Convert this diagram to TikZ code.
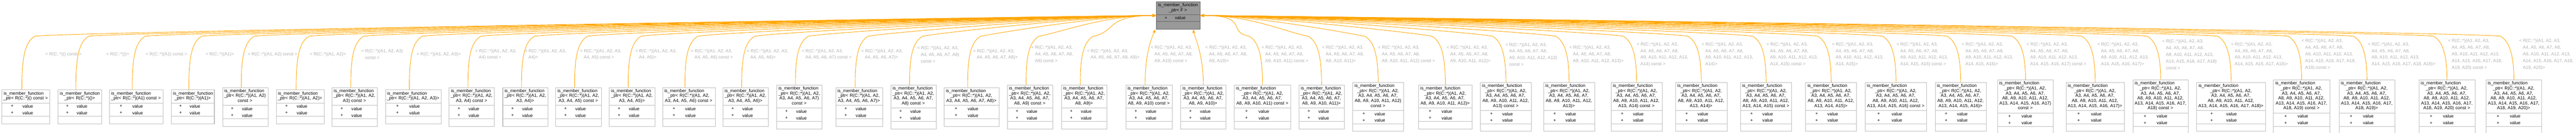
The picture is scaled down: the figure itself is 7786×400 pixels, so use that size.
\documentclass[tikz,border=0pt]{standalone}
\usepackage{fontspec}
\setmainfont{Liberation Sans}
\usetikzlibrary{arrows.meta,calc}
\definecolor{edgec}{RGB}{255,165,0}
\definecolor{boxc}{RGB}{191,191,191}
\definecolor{lblc}{RGB}{175,175,175}
\definecolor{rootfill}{RGB}{153,153,153}
\definecolor{rootline}{RGB}{102,102,102}
\tikzset{
 umlbox/.style={draw=boxc,line width=0.8pt,fill=white,inner sep=0pt,anchor=north west},
 umltitle/.style={anchor=north,inner sep=0pt,align=center,font=\fontsize{6.7}{7.5}\selectfont},
 sepline/.style={draw=boxc,line width=0.8pt},
 attr/.style={inner sep=0pt,font=\fontsize{6.7}{7.5}\selectfont},
 lbl/.style={anchor=west,inner sep=0pt,align=left,text=lblc,font=\fontsize{6.7}{10}\selectfont},
 edge/.style={draw=edgec,line width=0.7pt,-{Stealth[length=6pt,width=4.5pt]}},
}
\newcommand\PtA{\_ptr< R(C::*)(A1, A2,}
\newcommand\PtB{\PtA\\A3, A4, A5, A6, A7,}
\newcommand\PtC{\PtB\\A8, A9, A10, A11, A12,}
\newcommand\PtD{\PtC\\A13, A14, A15, A16, A17,}
\newcommand\lbnl{\\\hspace*{5.5pt}}
\newcommand\LbA{< R(C::*)(A1, A2, A3,}
\newcommand\LbB{\LbA\lbnl A4, A5, A6, A7, A8,}
\newcommand\LbC{\LbB\lbnl A9, A10, A11, A12, A13,}
\newcommand\LbD{\LbC\lbnl A14, A15, A16, A17, A18,}
\newcommand\edgeL[1]{\pgfmathsetmacro\ax{\cx-12}\draw[edge] ([xshift=-6pt]b#1.north) .. controls (\ax,165) and (\ax+12,125) .. (\ax+40,109) .. controls (\ax+110,96) and (3340,46) .. (root.west);}
\newcommand\edgeR[1]{\draw[edge] (b#1.north) .. controls (\cx,165) and (\cx-12,125) .. (\cx-40,109) .. controls (\cx-110,96) and (3780,46) .. (root.east);}
\newcommand\edgeB[1]{\pgfmathsetmacro\ax{\cx-12}\draw[edge] ([xshift=-6pt]b#1.north) .. controls (\ax,160) and (\ax+20,115) .. ([xshift=-1.5pt]root.south west);}
\newcommand\edgeC[1]{\draw[edge] (b#1.north) .. controls (\cx,160) and (\cx-25,115) .. ([xshift=-10.5pt]root.south east);}
\newcommand\umlbox[8]{%
 \pgfmathsetmacro\bt{285-7.5*#4}%
 \pgfmathsetmacro\hb{\bt+15*#4+10}%
 \pgfmathsetmacro\ab{\hb+40}%
 \pgfmathsetmacro\bh{(15*#4+72)*0.5}%
 \pgfmathsetmacro\bw{(#3-#2)*0.5}%
 \pgfmathsetmacro\tw{\bw-6}%
 \pgfmathsetmacro\ww{\bw+40}%
 \pgfmathsetmacro\cx{(#2+#3)/2}%
 \node[umlbox,minimum width=\bw pt,minimum height=\bh pt] (b#1) at (#2,\bt) {};
 \node[umltitle,text width=\ww pt] (t#1) at (\cx,\bt+5) {\makebox[\tw pt][l]{is\_member\_function}\\#5};
 \draw[sepline] (#2,\hb) -- (#3,\hb);
 \draw[sepline] (#2,\ab) -- (#3,\ab);
 \node[attr] (pa#1) at ({#2+0.22*(#3-#2)},\hb+10) {+};
 \node[attr] (pb#1) at ({#2+0.22*(#3-#2)},\hb+30) {+};
 \node[attr,anchor=west] (va#1) at ({#2+0.43*(#3-#2)},\hb+10) {value};
 \node[attr,anchor=west] (vb#1) at ({#2+0.43*(#3-#2)},\hb+30) {value};
 \node[lbl] (l#1) at (#7,164) {#8};
 \csname edge#6\endcsname{#1}%
}
\begin{document}
\begin{tikzpicture}[x=0.5pt,y=-0.5pt]
\useasboundingbox (0,0) rectangle (7786,400);
\node[umlbox,fill=rootfill,draw=rootline,minimum width=65.5pt,minimum height=41pt] (root) at (3495,5) {};
\node[umltitle] (rt) at (3560.5,10) {is\_member\_function\\\_ptr< F >};
\draw[sepline,draw=rootline] (3495,44) -- (3626,44);
\draw[sepline,draw=rootline] (3495,64) -- (3626,64);
\node[attr] (rp) at (3524,54) {+};
\node[attr,anchor=west] (rv) at (3551,54) {value};
\umlbox{0}{5}{150}{2}{\_ptr< R(C::*)() const >}{L}{137}{< R(C::*)() const >}
\umlbox{1}{175}{306}{2}{\_ptr< R(C::*)()>}{L}{321}{< R(C::*)()>}
\umlbox{2}{330}{492}{2}{\_ptr< R(C::*)(A1) const >}{L}{440}{< R(C::*)(A1) const >}
\umlbox{3}{517}{647}{2}{\_ptr< R(C::*)(A1)>}{L}{621}{< R(C::*)(A1)>}
\umlbox{4}{672}{809}{3}{\_ptr< R(C::*)(A1, A2)\\const >}{L}{749}{< R(C::*)(A1, A2) const >}
\umlbox{5}{834}{979}{2}{\_ptr< R(C::*)(A1, A2)>}{L}{936}{< R(C::*)(A1, A2)>}
\umlbox{6}{1003}{1140}{3}{\PtA\\A3) const >}{L}{1092}{< R(C::*)(A1, A2, A3)\lbnl const >}
\umlbox{7}{1164}{1333}{2}{\_ptr< R(C::*)(A1, A2, A3)>}{L}{1259}{< R(C::*)(A1, A2, A3)>}
\umlbox{8}{1357}{1494}{3}{\PtA\\A3, A4) const >}{L}{1436}{\LbA\lbnl A4) const >}
\umlbox{9}{1519}{1656}{3}{\PtA\\A3, A4)>}{L}{1586}{\LbA\lbnl A4)>}
\umlbox{10}{1679}{1817}{3}{\PtA\\A3, A4, A5) const >}{L}{1753}{\LbA\lbnl A4, A5) const >}
\umlbox{11}{1841}{1979}{3}{\PtA\\A3, A4, A5)>}{L}{1920}{\LbA\lbnl A4, A5)>}
\umlbox{12}{2002}{2161}{3}{\PtA\\A3, A4, A5, A6) const >}{L}{2088}{\LbA\lbnl A4, A5, A6) const >}
\umlbox{13}{2184}{2322}{3}{\PtA\\A3, A4, A5, A6)>}{L}{2257}{\LbA\lbnl A4, A5, A6)>}
\umlbox{14}{2347}{2484}{4}{\PtA\\A3, A4, A5, A6, A7)\\const >}{L}{2423}{\LbA\lbnl A4, A5, A6, A7) const >}
\umlbox{15}{2525}{2667}{3}{\PtA\\A3, A4, A5, A6, A7)>}{L}{2603}{\LbA\lbnl A4, A5, A6, A7)>}
\umlbox{16}{2692}{2829}{4}{\PtB\\A8) const >}{L}{2772}{\LbA\lbnl A4, A5, A6, A7, A8)\lbnl const >}
\umlbox{17}{2853}{3019}{3}{\PtA\\A3, A4, A5, A6, A7, A8)>}{L}{2941}{\LbA\lbnl A4, A5, A6, A7, A8)>}
\umlbox{18}{3044}{3181}{4}{\PtB\\A8, A9) const >}{L}{3117}{\LbB\lbnl A9) const >}
\umlbox{19}{3208}{3345}{4}{\PtB\\A8, A9)>}{L}{3285}{\LbA\lbnl A4, A5, A6, A7, A8, A9)>}
\umlbox{20}{3402}{3543}{4}{\PtB\\A8, A9, A10) const >}{B}{3478}{\LbB\lbnl A9, A10) const >}
\umlbox{21}{3568}{3705}{4}{\PtB\\A8, A9, A10)>}{C}{3643}{\LbB\lbnl A9, A10)>}
\umlbox{22}{3730}{3901}{4}{\PtB\\A8, A9, A10, A11) const >}{R}{3813}{\LbB\lbnl A9, A10, A11) const >}
\umlbox{23}{3926}{4062}{4}{\PtB\\A8, A9, A10, A11)>}{R}{3996}{\LbB\lbnl A9, A10, A11)>}
\umlbox{24}{4088}{4242}{5}{\PtB\\A8, A9, A10, A11, A12)\\const >}{R}{4165}{\LbB\lbnl A9, A10, A11, A12) const >}
\umlbox{25}{4287}{4449}{4}{\PtB\\A8, A9, A10, A11, A12)>}{R}{4372}{\LbB\lbnl A9, A10, A11, A12)>}
\umlbox{26}{4474}{4628}{5}{\PtC\\A13) const >}{R}{4550}{\LbB\lbnl A9, A10, A11, A12, A13)\lbnl const >}
\umlbox{27}{4665}{4819}{5}{\PtC\\A13)>}{R}{4743}{\LbB\lbnl A9, A10, A11, A12, A13)>}
\umlbox{28}{4869}{5023}{5}{\PtC\\A13, A14) const >}{R}{4947}{\LbC\lbnl A14) const >}
\umlbox{29}{5064}{5219}{5}{\PtC\\A13, A14)>}{R}{5143}{\LbC\lbnl A14)>}
\umlbox{30}{5260}{5415}{5}{\PtC\\A13, A14, A15) const >}{R}{5339}{\LbC\lbnl A14, A15) const >}
\umlbox{31}{5457}{5611}{5}{\PtC\\A13, A14, A15)>}{R}{5537}{\LbC\lbnl A14, A15)>}
\umlbox{32}{5637}{5823}{5}{\PtC\\A13, A14, A15, A16) const >}{R}{5732}{\LbC\lbnl A14, A15, A16) const >}
\umlbox{33}{5848}{6003}{5}{\PtC\\A13, A14, A15, A16)>}{R}{5929}{\LbC\lbnl A14, A15, A16)>}
\umlbox{34}{6037}{6206}{6}{\PtC\\A13, A14, A15, A16, A17)\\const >}{R}{6125}{\LbC\lbnl A14, A15, A16, A17) const >}
\umlbox{35}{6244}{6420}{5}{\PtC\\A13, A14, A15, A16, A17)>}{R}{6339}{\LbC\lbnl A14, A15, A16, A17)>}
\umlbox{36}{6446}{6614}{6}{\PtD\\A18) const >}{R}{6535}{\LbC\lbnl A14, A15, A16, A17, A18)\lbnl const >}
\umlbox{37}{6639}{6847}{5}{\PtC\\A13, A14, A15, A16, A17, A18)>}{R}{6743}{\LbC\lbnl A14, A15, A16, A17, A18)>}
\umlbox{38}{6871}{7041}{6}{\PtD\\A18, A19) const >}{R}{6956}{\LbD\lbnl A19) const >}
\umlbox{39}{7069}{7238}{6}{\PtD\\A18, A19)>}{R}{7157}{\LbC\lbnl A14, A15, A16, A17, A18, A19)>}
\umlbox{40}{7311}{7480}{6}{\PtD\\A18, A19, A20) const >}{R}{7399}{\LbD\lbnl A19, A20) const >}
\umlbox{41}{7513}{7682}{6}{\PtD\\A18, A19, A20)>}{R}{7614}{\LbD\lbnl A19, A20)>}
\end{tikzpicture}
\end{document}
